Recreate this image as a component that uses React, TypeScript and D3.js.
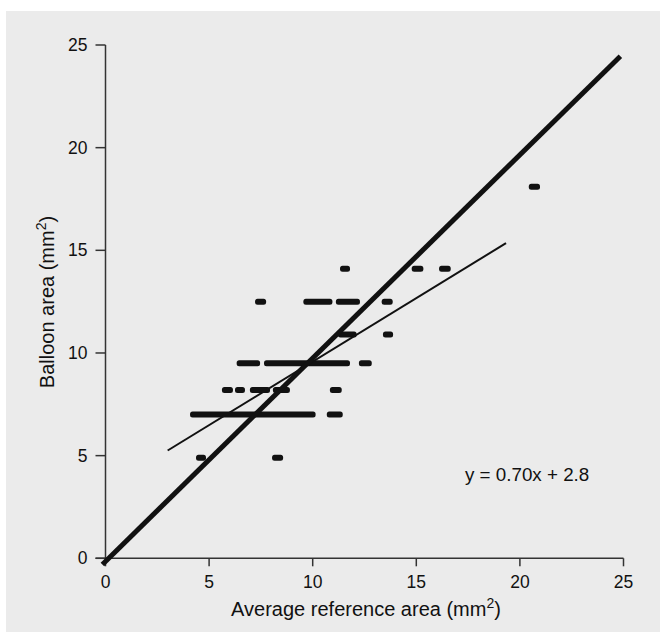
import React from "react";
import { scaleLinear, range } from "d3";

// balloon area levels (mm2) and the dash runs read at each level: [level, xStart, xEnd]
const dashRuns: [number, number, number][] = [
  [4.9, 4.37, 4.85],
  [4.9, 8.04, 8.57],
  [7.0, 4.08, 10.14],
  [7.0, 10.68, 11.45],
  [8.2, 5.62, 6.15],
  [8.2, 6.25, 6.73],
  [8.2, 6.97, 7.94],
  [8.2, 8.08, 8.9],
  [8.2, 10.83, 11.4],
  [9.5, 6.33, 7.46],
  [9.5, 7.65, 11.8],
  [9.5, 12.23, 12.85],
  [10.9, 11.22, 12.12],
  [10.9, 13.39, 13.88],
  [12.5, 7.22, 7.75],
  [12.5, 9.55, 10.95],
  [12.5, 11.12, 12.28],
  [12.5, 13.33, 13.86],
  [14.1, 11.32, 11.8],
  [14.1, 14.78, 15.34],
  [14.1, 16.1, 16.66],
  [18.1, 20.43, 20.97],
];

// line of identity and the regression line, endpoints as drawn
const identityLine: [number, number][] = [[-0.15, -0.3], [24.85, 24.45]];
const regressionLine: [number, number][] = [[3.0, 5.25], [19.33, 15.35]];
const equationLabel = "y = 0.70x + 2.8";

const xTicks = range(0, 26, 5);
const yTicks = range(0, 26, 5);

const W = 666;
const H = 641;

export default function App() {
  const x = scaleLinear().domain([0, 25]).range([105.5, 623.5]);
  const y = scaleLinear().domain([0, 25]).range([558.3, 45]);
  const font = "'Liberation Sans', Arial, sans-serif";
  const ink = "#111";

  const dashes = dashRuns.map((d, i) => (
    <rect
      key={i}
      x={x(d[1])}
      y={y(d[0]) - 3}
      width={x(d[2]) - x(d[1])}
      height={6}
      rx={2.5}
      fill={ink}
    />
  ));

  return (
    <svg
      width={W}
      height={H}
      viewBox={`0 0 ${W} ${H}`}
      style={{ position: "absolute", left: 0, top: 0, background: "#fff" }}
      fontFamily={font}
    >
      <rect x={6} y={11} width={654} height={621} fill="#ebebeb" />

      {/* axes */}
      <g stroke="#333" strokeWidth={1.5} fill="none">
        <line x1={x(0)} y1={y(25)} x2={x(0)} y2={y(0)} />
        <line x1={x(0) - 10} y1={y(0)} x2={x(25)} y2={y(0)} />
        {yTicks.map((t) => (
          <line key={"yt" + t} x1={x(0) - 10} y1={y(t)} x2={x(0)} y2={y(t)} />
        ))}
        {xTicks.map((t) => (
          <line key={"xt" + t} x1={x(t)} y1={y(0)} x2={x(t)} y2={y(0) + 8} />
        ))}
      </g>

      <g fontSize={17.5} fill={ink}>
        {yTicks.map((t) => (
          <text key={"yl" + t} x={x(0) - 18} y={y(t)} dy="0.35em" textAnchor="end">
            {t}
          </text>
        ))}
        {xTicks.map((t) => (
          <text key={"xl" + t} x={x(t)} y={y(0) + 29.5} textAnchor="middle">
            {t}
          </text>
        ))}
      </g>
      <g fontSize={20} fill={ink}>
        <text x={366} y={616} textAnchor="middle">
          Average reference area (mm
          <tspan dy={-8} fontSize={14}>2</tspan>
          <tspan dy={8}>)</tspan>
        </text>
        <text transform="translate(54,302) rotate(-90)" textAnchor="middle">
          Balloon area (mm
          <tspan dy={-8} fontSize={14}>2</tspan>
          <tspan dy={8}>)</tspan>
        </text>
      </g>
      <text x={465} y={481} fontSize={18.8} fill={ink}>
        {equationLabel}
      </text>

      {dashes}

      <line
        x1={x(regressionLine[0][0])}
        y1={y(regressionLine[0][1])}
        x2={x(regressionLine[1][0])}
        y2={y(regressionLine[1][1])}
        stroke={ink}
        strokeWidth={2}
      />
      <line
        x1={x(identityLine[0][0])}
        y1={y(identityLine[0][1])}
        x2={x(identityLine[1][0])}
        y2={y(identityLine[1][1])}
        stroke={ink}
        strokeWidth={5}
      />
    </svg>
  );
}
